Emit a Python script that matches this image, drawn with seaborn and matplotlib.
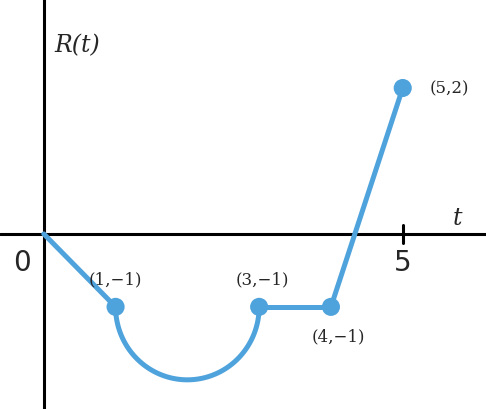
import numpy as np
import matplotlib
matplotlib.use("Agg")
import matplotlib.pyplot as plt
import seaborn as sns

sns.set_style("white")
color = "#4fa3dc"

seg1_t = [0, 1]; seg1_r = [0, -1]
arc_center = (2, -1); arc_radius = 1
seg2_t = [3, 4]; seg2_r = [-1, -1]
seg3_t = [4, 5]; seg3_r = [-1, 2]
pts_t = [1, 3, 4, 5]; pts_r = [-1, -1, -1, 2]
labels = ["(1,\u22121)", "(3,\u22121)", "(4,\u22121)", "(5,2)"]

fig = plt.figure(figsize=(4.86, 4.10), dpi=100)
ax = fig.add_axes([0, 0, 1, 1])
ax.set_xlim(-0.61, 6.16)
ax.set_ylim(-2.40, 3.22)
ax.axis("off")

ax.axhline(0, color="black", lw=2.2, zorder=1)
ax.axvline(0, color="black", lw=2.2, zorder=1)
ax.plot([5, 5], [-0.12, 0.12], color="black", lw=2.2)

th = np.linspace(np.pi, 2 * np.pi, 100)
sns.lineplot(x=seg1_t, y=seg1_r, ax=ax, color=color, lw=3.6, sort=False)
sns.lineplot(x=arc_center[0] + arc_radius * np.cos(th), y=arc_center[1] + arc_radius * np.sin(th),
             ax=ax, color=color, lw=3.6, sort=False)
sns.lineplot(x=seg2_t, y=seg2_r, ax=ax, color=color, lw=3.6, sort=False)
sns.lineplot(x=seg3_t, y=seg3_r, ax=ax, color=color, lw=3.6, sort=False)
sns.scatterplot(x=pts_t, y=pts_r, ax=ax, color=color, s=170, edgecolor="none", zorder=5)

serif = "DejaVu Serif"
offs = [(0.0, 0.38), (0.05, 0.38), (0.1, -0.40), (0.37, 0.0)]
has = ["center", "center", "center", "left"]
for t, r, lab, (dx, dy), ha in zip(pts_t, pts_r, labels, offs, has):
    ax.text(t + dx, r + dy, lab, family=serif, fontsize=12, ha=ha, va="center")

ax.text(0.15, 2.60, "R(t)", family=serif, style="italic", fontsize=17, va="center")
ax.text(5.7, 0.22, "t", family=serif, style="italic", fontsize=17, va="center")
ax.text(-0.3, -0.38, "0", fontsize=20, ha="center", va="center")
ax.text(5.0, -0.38, "5", fontsize=20, ha="center", va="center")

fig.savefig("out.png", dpi=100)
